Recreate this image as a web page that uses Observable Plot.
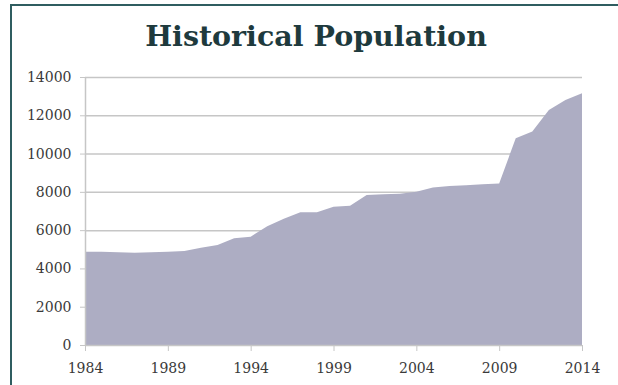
<!DOCTYPE html>
<html><head><meta charset="utf-8">
<script src="https://cdn.jsdelivr.net/npm/d3@7"></script>
<script src="https://cdn.jsdelivr.net/npm/@observablehq/plot@0.6"></script>
<style>
body{margin:0;background:#fff;width:618px;height:385px;overflow:hidden;position:relative;}
#frame{position:absolute;left:10px;top:4px;width:700px;height:500px;border-left:2px solid #2f5d60;border-top:2px solid #2f5d60;}
#title{position:absolute;left:0;top:19px;width:632px;text-align:center;font:bold 28.5px "DejaVu Serif";color:#1e3a3d;white-space:nowrap;}
#chart{position:absolute;left:0;top:60px;}
</style></head><body>
<div id="frame"></div>
<div id="title">Historical Population</div>
<div id="chart"></div>
<script>
const years = [1984,1985,1986,1987,1988,1989,1990,1991,1992,1993,1994,1995,1996,1997,1998,1999,2000,2001,2002,2003,2004,2005,2006,2007,2008,2009,2010,2011,2012,2013,2014];
const population = [4870,4870,4850,4820,4840,4870,4910,5080,5220,5570,5660,6200,6600,6930,6930,7220,7270,7830,7880,7900,8000,8230,8300,8350,8400,8440,10800,11150,12280,12800,13150];
const yTicks = [0,2000,4000,6000,8000,10000,12000,14000];
const xTicks = [1984,1989,1994,1999,2004,2009,2014];

const data = years.map((y, i) => ({year: y, pop: population[i]}));
const gridColor = "#c6c6c6";

const chart = Plot.plot({
  width: 618, height: 325,
  marginLeft: 85, marginRight: 36, marginTop: 17, marginBottom: 40,
  style: {fontFamily: "DejaVu Serif", fontSize: "14px", color: "#3a3a3a", background: "transparent"},
  x: {domain: [1984, 2014], label: null},
  y: {domain: [0, 14000], label: null},
  marks: [
    Plot.ruleY(yTicks.slice(1), {stroke: gridColor, strokeWidth: 1.5}),
    Plot.areaY(data, {x: "year", y: "pop", fill: "#adadc3"}),
    Plot.ruleX([1984], {stroke: gridColor, strokeWidth: 1.5}),
    Plot.ruleY([0], {stroke: gridColor, strokeWidth: 1.5}),
    Plot.axisY({ticks: yTicks, tickFormat: "d", tickSize: 5, tickPadding: 9, stroke: gridColor, fill: "#3a3a3a", label: null}),
    Plot.axisX({ticks: xTicks, tickFormat: "d", tickSize: 6, tickPadding: 12, stroke: gridColor, fill: "#3a3a3a", label: null})
  ]
});
document.getElementById("chart").appendChild(chart);
</script>
</body></html>
